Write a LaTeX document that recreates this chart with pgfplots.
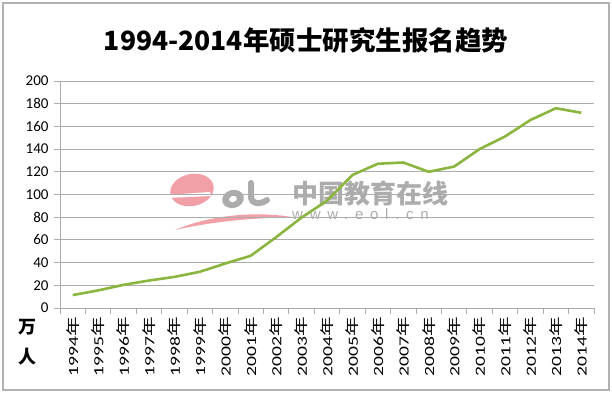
\documentclass[border=0pt]{standalone}
\usepackage{pgfplots}
\pgfplotsset{compat=1.18}
\usepackage{graphicx}
\usepackage{fontspec}
\setmainfont{Carlito}
\newfontfamily\cjk{Noto Sans CJK SC}
\newfontfamily\wm{Liberation Sans}[LetterSpace=45]
\definecolor{lineGreen}{RGB}{138,181,62}
\definecolor{wmGray}{RGB}{172,172,172}
\definecolor{wmPink}{RGB}{242,160,168}
\newcommand{\yr}[1]{\scalebox{1.4}[1]{\fontsize{14}{14}\selectfont #1{\cjk 年}}}
\begin{document}
\begin{tikzpicture}
\useasboundingbox (0pt,0pt) rectangle (612pt,393pt);
\draw[gray!60, line width=1.2pt] (3pt,3pt) rectangle (609pt,390pt);
% watermark logo
\fill[wmPink, rotate around={12:(192pt,203pt)}] (192pt,203pt) ellipse (22pt and 16pt);
\fill[white] (166pt,198pt) -- (210pt,201pt) -- (211pt,197pt) -- (166pt,195pt) -- cycle;
\fill[wmPink] (175pt,163pt) .. controls (210pt,178pt) and (255pt,182pt) .. (292pt,176pt) .. controls (255pt,175pt) and (215pt,172pt) .. (175pt,163pt) -- cycle;
\fill[wmGray, rotate around={15:(233pt,194pt)}] (233pt,194pt) ellipse (11pt and 9pt);
\fill[white, rotate around={15:(233pt,194pt)}] (233pt,194pt) ellipse (4pt and 3pt);
\draw[wmGray, line width=6pt, line cap=round] (251pt,210pt) -- (251pt,195pt) .. controls (252pt,189pt) and (260pt,188pt) .. (267pt,193pt);
\node[text=wmGray, font=\cjk\fontsize{26}{26}\selectfont\bfseries, anchor=west, inner sep=0pt] at (292pt,200pt) {中国教育在线};
\node[text=wmGray, font=\wm\fontsize{15}{15}\selectfont, anchor=west, inner sep=0pt] at (292pt,179pt) {www.eol.cn};
\begin{axis}[
  at={(60pt,85pt)}, anchor=south west,
  scale only axis, width=534pt, height=227pt,
  xmin=-0.5, xmax=20.5, ymin=0, ymax=200,
  ytick={0,20,...,200},
  ymajorgrids, grid style={gray!65, line width=0.9pt},
  axis x line*=bottom, axis y line*=left,
  axis line style={gray!65, line width=0.9pt, -},
  tick style={gray!65, line width=0.9pt},
  tick align=outside, major tick length=6pt,
  xtick={-0.5,0.5,...,20.5}, xticklabels={},
  extra x ticks={0,1,...,20},
  extra x tick style={major tick length=0pt, grid=none,
     xticklabel style={yshift=-8pt, rotate=90, anchor=east, inner sep=1pt}},
  extra x tick labels={\yr{1994},\yr{1995},\yr{1996},\yr{1997},\yr{1998},\yr{1999},\yr{2000},\yr{2001},\yr{2002},\yr{2003},\yr{2004},\yr{2005},\yr{2006},\yr{2007},\yr{2008},\yr{2009},\yr{2010},\yr{2011},\yr{2012},\yr{2013},\yr{2014}},
  yticklabel style={font=\fontsize{15}{15}\selectfont, xshift=-2pt},
  /pgf/number format/assume math mode=true,
  clip=false,
]
\addplot[lineGreen, line width=2.6pt, line join=round, mark=none] coordinates {
(0,11.4) (1,15.5) (2,20.4) (3,24.2) (4,27.4) (5,31.9) (6,39.2) (7,46.0) (8,62.4) (9,79.7) (10,94.5) (11,117.2) (12,127.1) (13,128.2) (14,120.0) (15,124.6) (16,140.0) (17,151.1) (18,165.6) (19,176.0) (20,172.0)
};
\end{axis}
\node[font=\cjk\fontsize{26.5}{26.5}\selectfont\bfseries] at (306pt,353pt) {1994-2014年硕士研究生报名趋势};
\node[font=\cjk\fontsize{18}{18}\selectfont\bfseries] at (27pt,66pt) {万};
\node[font=\cjk\fontsize{18}{18}\selectfont\bfseries] at (27pt,36pt) {人};
\end{tikzpicture}
\end{document}
